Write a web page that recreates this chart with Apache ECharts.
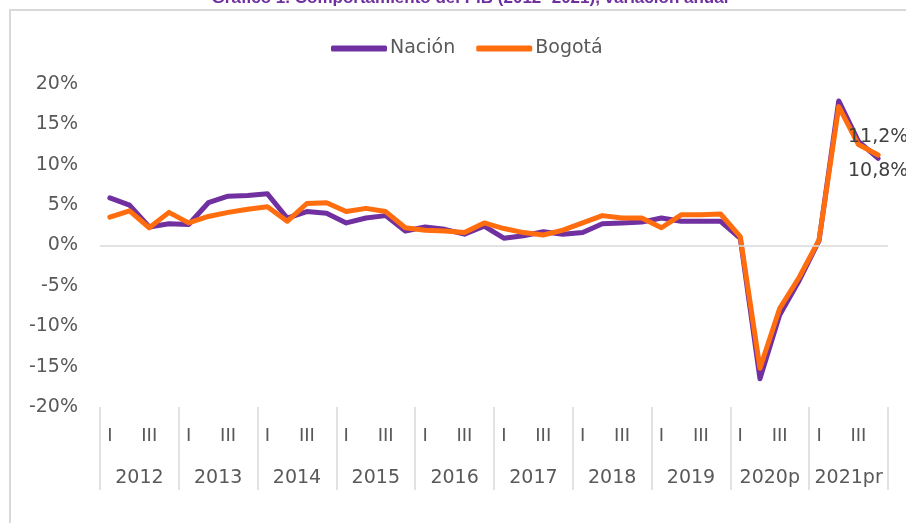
<!DOCTYPE html>
<html>
<head>
<meta charset="utf-8">
<script src="https://cdn.jsdelivr.net/npm/echarts@6/dist/echarts.min.js"></script>
<style>
  html, body { margin: 0; padding: 0; background: #fff; }
  #frame { position: absolute; left: 9px; top: 9px; right: 0; bottom: 0;
           border-top: 2px solid #d9d9d9; border-left: 2px solid #d9d9d9; }
  #container { position: absolute; left: 0; top: 0; width: 906px; height: 523px; }
</style>
</head>
<body>
<div id="frame"></div>
<div id="container"></div>
<script>
// años y trimestres del eje X
const years = ["2012", "2013", "2014", "2015", "2016", "2017", "2018", "2019", "2020p", "2021pr"];
const quarters = ["I", "II", "III", "IV"];

// variación anual del PIB (%), trimestral 2012-I a 2021-IV
const nacion = [
  5.9, 5.0, 2.3, 2.7, 2.6, 5.3, 6.1, 6.2, 6.4, 3.4,
  4.2, 4.0, 2.8, 3.4, 3.7, 1.8, 2.3, 2.0, 1.4, 2.4,
  0.9, 1.2, 1.7, 1.4, 1.6, 2.7, 2.8, 2.9, 3.4, 3.0,
  3.0, 3.0, 0.9, -16.5, -8.6, -4.3, 0.6, 17.9, 12.9, 10.8
];
const bogota = [
  3.5, 4.3, 2.2, 4.1, 2.8, 3.6, 4.1, 4.5, 4.8, 3.0,
  5.2, 5.3, 4.2, 4.6, 4.2, 2.2, 1.9, 1.8, 1.6, 2.8,
  2.1, 1.6, 1.3, 1.9, 2.8, 3.7, 3.4, 3.4, 2.2, 3.8,
  3.8, 3.9, 1.1, -15.2, -7.8, -3.9, 0.7, 17.2, 12.5, 11.2
];

const categories = years.flatMap((y) => quarters.map((q) => y + " " + q));
const last = categories.length - 1;

const purple = "#7030a0";
const orange = "#ff6d0f";
const textColor = "#595959";
const fontFamily = "DejaVu Sans";

const dom = document.getElementById("container");
const myChart = echarts.init(dom, null, { renderer: "canvas" });

const lastLabel = (p) =>
  p.dataIndex === last ? p.value.toFixed(1).replace(".", ",") + "%" : "";

const option = {
  animation: false,
  title: {
    text: "Gráfico 1. Comportamiento del PIB (2012- 2021), variación anual",
    left: 465,
    textAlign: "center",
    top: -15,
    textStyle: { color: purple, fontSize: 17, fontWeight: "bold", fontFamily: "Liberation Sans" },
  },
  legend: {
    top: 34,
    left: 326,
    icon: "roundRect",
    itemWidth: 56,
    itemHeight: 6,
    itemGap: 21,
    textStyle: { color: textColor, fontSize: 19, fontFamily: fontFamily, padding: [0, 0, 0, -2] },
    data: ["Nación", "Bogotá"],
  },
  grid: { left: 100, right: 18, top: 84, bottom: 116, containLabel: false },
  xAxis: [
    {
      type: "category",
      data: categories,
      boundaryGap: true,
      axisLine: { show: false },
      axisTick: { show: false },
      axisLabel: {
        interval: (i) => i % 2 === 0,
        formatter: (v) => v.split(" ")[1],
        margin: 20,
        color: textColor,
        fontSize: 18,
        fontFamily: fontFamily,
      },
    },
    {
      type: "category",
      data: years,
      position: "bottom",
      boundaryGap: true,
      axisLine: { show: false },
      axisTick: { show: true, length: 83, interval: 0, lineStyle: { color: "#d9d9d9", width: 1.5 } },
      axisLabel: {
        interval: 0,
        margin: 62,
        color: textColor,
        fontSize: 19,
        fontFamily: fontFamily,
      },
    },
  ],
  yAxis: {
    type: "value",
    min: -20,
    max: 20,
    interval: 5,
    axisLine: { show: false },
    axisTick: { show: false },
    splitLine: { show: false },
    axisLabel: {
      formatter: "{value}%",
      margin: 22,
      color: textColor,
      fontSize: 19,
      fontFamily: fontFamily,
    },
  },
  series: [
    {
      name: "Nación",
      type: "line",
      data: nacion,
      showSymbol: true,
      symbol: "circle",
      symbolSize: 0,
      lineStyle: { color: purple, width: 5, cap: "round", join: "round" },
      itemStyle: { color: purple },
      label: {
        show: true,
        position: "bottom",
        distance: 3,
        formatter: lastLabel,
        color: "#404040",
        fontSize: 19,
        fontFamily: fontFamily,
      },
      markLine: {
        silent: true,
        symbol: "none",
        label: { show: false },
        lineStyle: { color: "#d9d9d9", width: 1.5, type: "solid" },
        data: [{ yAxis: 0 }],
      },
    },
    {
      name: "Bogotá",
      type: "line",
      data: bogota,
      showSymbol: true,
      symbol: "circle",
      symbolSize: 0,
      lineStyle: { color: orange, width: 5, cap: "round", join: "round" },
      itemStyle: { color: orange },
      label: {
        show: true,
        position: "top",
        distance: 8,
        formatter: lastLabel,
        color: "#404040",
        fontSize: 19,
        fontFamily: fontFamily,
      },
    },
  ],
};

myChart.setOption(option);
window.addEventListener("resize", myChart.resize);
</script>
</body>
</html>
